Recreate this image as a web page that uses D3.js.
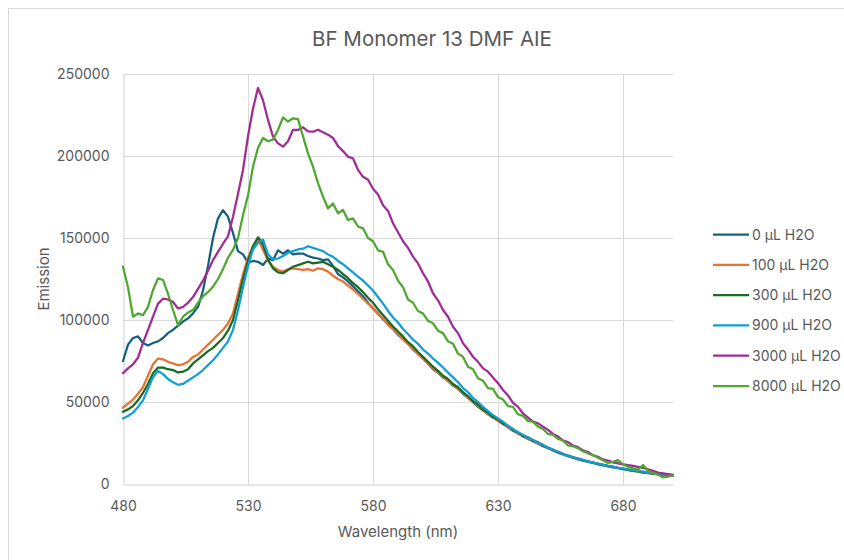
<!DOCTYPE html>
<html>
<head>
<meta charset="utf-8">
<script src="https://cdn.jsdelivr.net/npm/d3@7/dist/d3.min.js"></script>
<style>
  body { margin: 0; background: #fff; }
  svg text { font-family: "Inter", "Noto Sans", sans-serif; fill: #595959; }
</style>
</head>
<body>
<div id="chart"></div>
<script>
// Espectros de emisión, muestreados cada 2 nm (480 - 700)
const wavelengths = d3.range(480, 701, 2);

const seriesNames = ["0 µL H2O", "100 µL H2O", "300 µL H2O", "900 µL H2O", "3000 µL H2O", "8000 µL H2O"];
const seriesColors = ["#156082", "#E97132", "#196B24", "#0F9ED5", "#A02B93", "#4EA72E"];

const xTicks = [480, 530, 580, 630, 680];
const yTicks = [0, 50000, 100000, 150000, 200000, 250000];

const h2o0 = [
  75000, 85000, 89000, 90000, 86000, 84500, 86000, 87000, 89000, 92000,
  94000, 96500, 99000, 101000, 104000, 108000, 118000, 133000, 150000, 162000,
  167000, 163000, 153000, 142000, 140000, 135000, 136000, 135500, 133500, 137500,
  136500, 142500, 140500, 142500, 140000, 140500, 140500, 139000, 138000, 137500,
  136500, 137000, 133000, 128000, 126000, 123500, 120500, 117500, 114500, 110500,
  107000, 104000, 100500, 97500, 94500, 91000, 88500, 85500, 82000, 79500,
  76500, 73500, 70000, 68000, 65000, 63000, 60000, 58000, 55000, 52500,
  50000, 47000, 45000, 42500, 40500, 38500, 36500, 34500, 32500, 31000,
  29000, 27500, 26000, 24500, 23000, 21800, 20500, 19000, 18000, 17000,
  16000, 15000, 14200, 13500, 12800, 12000, 11400, 10800, 10200, 9600,
  9000, 8500, 8000, 7500, 7000, 6600, 6300, 5900, 5600, 5300,
  5200
];
const h2o100 = [
  46500, 49000, 51500, 55000, 59000, 66000, 73000, 76500, 76000, 74500,
  73500, 72500, 73000, 74500, 77500, 79000, 82000, 85000, 88000, 91000,
  94000, 98000, 104000, 116000, 128000, 138000, 145000, 149000, 143000, 136000,
  132500, 130500, 129500, 131000, 131500, 131000, 130500, 131000, 130000, 131500,
  131000, 129500, 127000, 125000, 123500, 121000, 118500, 116000, 113000, 110000,
  107500, 103500, 101000, 97000, 94500, 91500, 88000, 85500, 82500, 79000,
  76500, 73500, 70500, 68000, 65500, 62500, 60500, 58000, 55500, 52500,
  50500, 47500, 45500, 42500, 41000, 38500, 37000, 34500, 33000, 30500,
  29500, 27500, 26500, 24500, 23500, 21800, 20800, 19300, 18300, 17000,
  16200, 15200, 14500, 13600, 13000, 12200, 11600, 10900, 10400, 9700,
  9300, 8600, 8200, 7600, 7300, 6800, 6500, 6000, 5800, 5400,
  5300
];
const h2o300 = [
  44000, 45500, 47500, 51000, 55500, 61000, 67500, 71000, 71000, 70000,
  69500, 68000, 68500, 70000, 73500, 76000, 78500, 81000, 83000, 86000,
  89000, 93500, 100000, 112000, 125000, 136000, 145000, 150500, 146000, 137000,
  131500, 129000, 128500, 130500, 132500, 133500, 134500, 135500, 134500, 135000,
  135500, 134000, 132500, 130500, 128000, 125500, 122500, 120000, 117000, 113500,
  110500, 106500, 103000, 99500, 96000, 93000, 90000, 86500, 84000, 80500,
  77500, 74500, 71500, 69000, 66000, 64000, 61000, 59000, 56000, 53500,
  50500, 48500, 45500, 43500, 41000, 39500, 37000, 35500, 33000, 31500,
  29500, 28500, 26500, 25500, 23500, 22200, 20800, 19700, 18300, 17400,
  16200, 15500, 14500, 13800, 13000, 12400, 11600, 11100, 10400, 9900,
  9300, 8800, 8200, 7800, 7300, 7000, 6500, 6200, 5800, 5600,
  5300
];
const h2o900 = [
  40000, 41500, 43500, 47000, 51000, 58000, 65000, 69000, 67000, 64000,
  62000, 60500, 61000, 63000, 65000, 67000, 69500, 72500, 75500, 79000,
  83000, 87000, 94000, 106000, 120000, 133000, 143000, 147000, 149000, 140000,
  137000, 137500, 139000, 141000, 142000, 143000, 143500, 145000, 144000, 143000,
  142000, 140000, 138500, 136000, 134000, 131500, 129000, 126500, 124000, 121000,
  118000, 114000, 110000, 105500, 101500, 98500, 94500, 91500, 88000, 85500,
  82000, 79500, 76500, 74000, 71000, 68000, 65000, 62000, 58500, 56000,
  52500, 50000, 47000, 44500, 42000, 40000, 38000, 35500, 33500, 31500,
  30000, 28000, 27000, 25000, 24000, 22000, 21000, 19500, 18500, 17000,
  16500, 15200, 14800, 13600, 13200, 12200, 11800, 10900, 10600, 9800,
  9500, 8800, 8400, 7800, 7500, 7000, 6600, 6100, 5900, 5500,
  5600
];
const h2o3000 = [
  67500, 70500, 73000, 77000, 86000, 94000, 102000, 110000, 113000, 112500,
  111000, 107000, 108000, 110500, 114000, 119000, 124000, 130000, 136500, 141500,
  146500, 151000, 163000, 177000, 191500, 212000, 229000, 241500, 234000, 222000,
  211800, 207700, 205700, 209000, 216000, 215900, 217500, 215000, 214800, 216000,
  214500, 213000, 211000, 206000, 203000, 199500, 198600, 191500, 187300, 185500,
  180000, 176500, 170000, 166500, 159000, 153500, 148000, 144000, 138600, 134500,
  128500, 123500, 116300, 112000, 106100, 102000, 95900, 92000, 85800, 82000,
  77600, 74500, 70500, 68500, 65000, 61500, 57300, 54000, 49500, 47000,
  43000, 40500, 38000, 37000, 35000, 33000, 30500, 29000, 26500, 25500,
  23500, 22500, 20500, 19500, 17500, 16600, 15000, 14300, 13200, 12600,
  12000, 11500, 11000, 10500, 9800, 9000, 8000, 7000, 6500, 6000,
  5500
];
const h2o8000 = [
  132500, 120000, 102000, 104000, 103000, 108000, 118300, 125400, 124400, 116000,
  106100, 97000, 102000, 104500, 106100, 110500, 114500, 117000, 120300, 125000,
  131000, 138000, 142700, 150000, 164000, 176000, 193500, 205000, 211000, 209000,
  210000, 215900, 223500, 221000, 223000, 222500, 212000, 201600, 193500, 183400,
  175200, 168000, 171000, 165100, 167100, 161000, 162000, 157000, 155900, 150000,
  148000, 142500, 141600, 134000, 130500, 124000, 120000, 112500, 110500, 105500,
  104000, 99500, 98000, 93500, 92000, 87000, 85500, 79500, 77500, 71500,
  70000, 64500, 63000, 58500, 58000, 53000, 51500, 47500, 47000, 42500,
  41500, 38500, 38000, 35000, 33500, 30500, 30000, 27500, 26500, 23500,
  23000, 21800, 20000, 18700, 17500, 16000, 14500, 12800, 13500, 14600,
  12000, 10500, 9500, 8800, 11600, 8000, 6800, 5800, 4000, 4500,
  5500
];

const seriesValues = [h2o0, h2o100, h2o300, h2o900, h2o3000, h2o8000];

const width = 844, height = 560;
const plot = { left: 123, right: 673, top: 74, bottom: 484 };

const svg = d3.select("#chart")
    .append("svg")
    .attr("width", width)
    .attr("height", height);

svg.append("rect")
    .attr("x", 8.5).attr("y", 8.5)
    .attr("width", width + 20).attr("height", height + 20)
    .attr("fill", "#fff")
    .attr("stroke", "#d9d9d9");

const x = d3.scaleLinear().domain([480, 700]).range([plot.left, plot.right]);
const y = d3.scaleLinear().domain([0, 250000]).range([plot.bottom, plot.top]);

// rejilla
svg.append("g")
  .selectAll("line")
  .data(yTicks.slice(1))
  .join("line")
    .attr("x1", plot.left).attr("x2", plot.right)
    .attr("y1", d => Math.round(y(d)) + 0.5).attr("y2", d => Math.round(y(d)) + 0.5)
    .attr("stroke", "#d9d9d9");
svg.append("g")
  .selectAll("line")
  .data(xTicks.slice(1))
  .join("line")
    .attr("x1", d => Math.round(x(d)) + 0.5).attr("x2", d => Math.round(x(d)) + 0.5)
    .attr("y1", plot.top).attr("y2", plot.bottom)
    .attr("stroke", "#d9d9d9");

// ejes
const xAxis = svg.append("g")
    .attr("transform", `translate(0,${plot.bottom + 0.5})`)
    .call(d3.axisBottom(x).tickValues(xTicks).tickSize(0).tickPadding(17));
const yAxis = svg.append("g")
    .attr("transform", `translate(${plot.left + 0.5},0)`)
    .call(d3.axisLeft(y).tickValues(yTicks).tickSize(0).tickPadding(14).tickFormat(d3.format("d")));
[xAxis, yAxis].forEach(g => {
  g.select(".domain").attr("stroke", "#d0d0d0");
  g.selectAll("text").attr("font-size", 14).attr("fill", "#595959")
    .style("font-family", "Inter, 'Noto Sans', sans-serif");
});

// series
const line = d3.line()
    .x(d => x(d[0]))
    .y(d => y(d[1]));

seriesValues.forEach((vals, i) => {
  const pts = wavelengths.map((w, j) => [w, vals[j]]).filter(d => d[1] !== undefined);
  svg.append("path")
      .datum(pts)
      .attr("fill", "none")
      .attr("stroke", seriesColors[i])
      .attr("stroke-width", 2.25)
      .attr("stroke-linejoin", "round")
      .attr("stroke-linecap", "round")
      .attr("d", line);
});

// título
svg.append("text")
    .attr("x", 432).attr("y", 46)
    .attr("text-anchor", "middle")
    .attr("font-size", 20.5)
    .text("BF Monomer 13 DMF AIE");

svg.append("text")
    .attr("x", (plot.left + plot.right) / 2).attr("y", 537)
    .attr("text-anchor", "middle")
    .attr("font-size", 15)
    .text("Wavelength (nm)");

svg.append("text")
    .attr("transform", `translate(49,${(plot.top + plot.bottom) / 2}) rotate(-90)`)
    .attr("text-anchor", "middle")
    .attr("font-size", 15)
    .text("Emission");

// leyenda
const legend = svg.append("g");
seriesNames.forEach((name, i) => {
  const ly = 234.5 + i * 30.3;
  legend.append("line")
      .attr("x1", 713).attr("x2", 749)
      .attr("y1", ly).attr("y2", ly)
      .attr("stroke", seriesColors[i])
      .attr("stroke-width", 2.25);
  legend.append("text")
      .attr("x", 752).attr("y", ly + 5)
      .attr("font-size", 14)
      .text(name);
});
</script>
</body>
</html>
